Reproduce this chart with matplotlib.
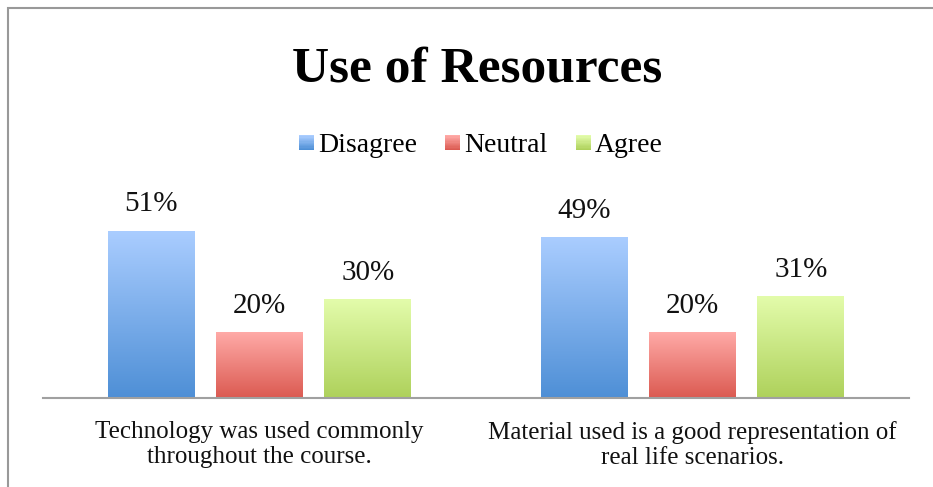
import numpy as np
import matplotlib
matplotlib.use("Agg")
import matplotlib.pyplot as plt
from matplotlib.colors import LinearSegmentedColormap
from matplotlib.patches import Rectangle
from matplotlib.legend_handler import HandlerBase

categories = ["Technology was used commonly\nthroughout the course.",
              "Material used is a good representation of\nreal life scenarios."]
series = ["Disagree", "Neutral", "Agree"]
disagree = [51, 49]
neutral = [20, 20]
agree = [30, 31]
values = [disagree, neutral, agree]

grad = {
    "Disagree": ("#4E8FD6", "#AACDFF"),
    "Neutral": ("#DB5A51", "#FFAAA7"),
    "Agree": ("#AED15B", "#E3FCAB"),
}

FONT = "Liberation Serif"

fig = plt.figure(figsize=(9.33, 4.87), dpi=100)
fig.patches.append(Rectangle((8 / 933, -0.1), 1.2, (487 - 8) / 487 + 0.1,
                             transform=fig.transFigure, fill=False,
                             edgecolor="#999999", linewidth=1.5))
ax = fig.add_axes([43 / 933, (487 - 398) / 487, 866 / 933, 229 / 487])
ax.set_xlim(-0.5, 1.5)
ax.set_ylim(0, 70)

x = np.arange(len(categories))
width = 0.2
offsets = [-0.25, 0.0, 0.25]
grad_img = np.linspace(0, 1, 256).reshape(-1, 1)
handles = []
for s, vals, off in zip(series, values, offsets):
    cmap = LinearSegmentedColormap.from_list(s, list(grad[s]))
    bars = ax.bar(x + off, vals, width, color="none", edgecolor="none", label=s)
    for b, v in zip(bars, vals):
        x0, w, h = b.get_x(), b.get_width(), b.get_height()
        ax.imshow(grad_img, extent=(x0, x0 + w, 0, h), origin="lower",
                  cmap=cmap, aspect="auto", zorder=2)
        ax.text(x0 + w / 2, h + 6.1, f"{v}%", ha="center", va="baseline",
                fontsize=21, family=FONT, color="#111111")
    handles.append(Rectangle((0, 0), 1, 1, facecolor=grad[s][0], edgecolor="none",
                             label=s))


class GradHandler(HandlerBase):
    def create_artists(self, legend, orig_handle, xdescent, ydescent, width,
                       height, fontsize, trans):
        s = orig_handle.get_label()
        lo = matplotlib.colors.to_rgb(grad[s][0])
        hi = matplotlib.colors.to_rgb(grad[s][1])
        arts = []
        n = 12
        side = min(width, height)
        y0 = -ydescent + (height - side) / 2
        for i in range(n):
            t = i / (n - 1)
            col = tuple(a + (b2 - a) * t for a, b2 in zip(lo, hi))
            r = Rectangle((-xdescent, y0 + side * i / n), side, side / n + 0.3,
                          facecolor=col, edgecolor="none", transform=trans)
            arts.append(r)
        return arts


for sp in ["top", "right", "left"]:
    ax.spines[sp].set_visible(False)
ax.spines["bottom"].set_color("#A0A0A0")
ax.spines["bottom"].set_linewidth(1.5)
ax.set_yticks([])
ax.set_xticks(x)
ax.set_xticklabels(categories, fontsize=18, family=FONT, color="#111111",
                   linespacing=1.18)
ax.tick_params(axis="x", length=0, pad=16.5)

fig.text(477 / 933, 1 - 82 / 487, "Use of Resources", ha="center", va="baseline",
         fontsize=37, fontweight="bold", family=FONT)
fig.legend(handles, series, loc="center", bbox_to_anchor=(481 / 933, 1 - 146 / 487),
           ncol=3, frameon=False, prop={"family": FONT, "size": 20},
           handlelength=0.55, handleheight=0.55, handletextpad=0.15, columnspacing=1.0,
           handler_map={Rectangle: GradHandler()})

fig.savefig("out.png", dpi=100)
